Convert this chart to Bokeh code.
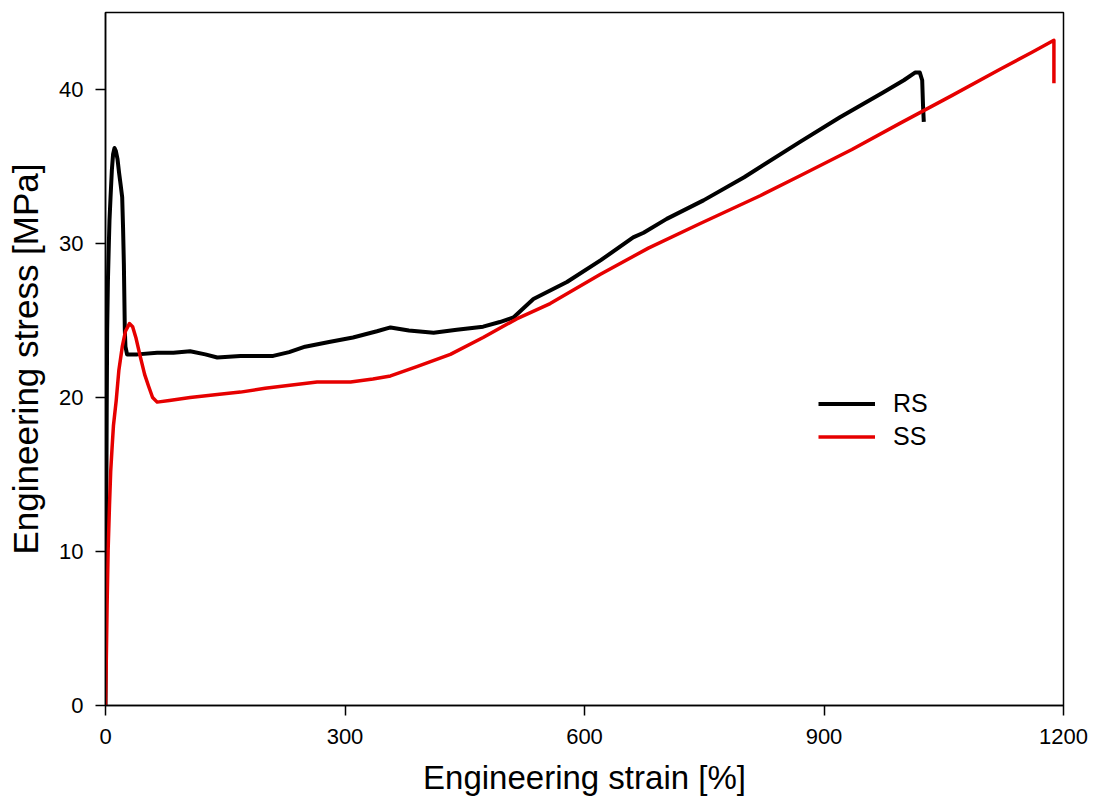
from bokeh.plotting import figure
from bokeh.models import Range1d, FixedTicker
from bokeh.embed import file_html
from bokeh.resources import INLINE

# Engineering stress-strain curves for the two specimens
rs_strain = [0, 0.5, 1, 1.5, 2.1, 3, 4.2, 5, 6.3, 8, 9.5, 11.3, 13, 15, 17, 19, 20.9, 22, 23,
             24.2, 25, 27, 40, 64.7, 85, 106, 125, 140, 169, 181, 210, 230, 250, 280, 310,
             340, 357, 380, 411, 440, 473, 494, 511, 536, 578, 620, 661, 674, 703, 749,
             800, 870, 920, 974, 1000, 1014, 1020, 1023, 1024, 1025]
rs_stress = [0, 6, 13, 19, 24.4, 27.5, 30, 31.5, 33, 34.8, 35.8, 36.2, 36, 35.5, 34.6, 33.8,
             33, 31, 28.7, 24.4, 23.3, 22.8, 22.8, 22.9, 22.9, 23.0, 22.8, 22.6, 22.7, 22.7,
             22.7, 22.95, 23.3, 23.6, 23.9, 24.3, 24.55, 24.35, 24.2, 24.4, 24.6, 24.9, 25.2,
             26.4, 27.5, 28.9, 30.4, 30.7, 31.6, 32.8, 34.3, 36.6, 38.2, 39.8, 40.6, 41.1,
             41.1, 40.6, 39.0, 37.9]

ss_strain = [0, 1, 2, 3.3, 5, 6.5, 8.3, 10, 13.4, 16.7, 21, 25, 30, 34, 38, 43.8, 49, 54.2,
             59, 64.7, 80, 106, 140, 169, 200, 231, 265, 307, 335, 357, 390, 432, 473, 515,
             557, 620, 680, 745, 820, 870, 935, 995, 1060, 1120, 1160, 1188, 1188]
ss_stress = [0, 3, 6.5, 10.1, 13, 15.2, 16.8, 18.2, 19.8, 21.75, 23.3, 24.3, 24.8, 24.6,
             23.9, 22.6, 21.5, 20.7, 20.0, 19.7, 19.8, 20.0, 20.2, 20.35, 20.6, 20.8, 21.0,
             21.0, 21.2, 21.4, 22.0, 22.8, 23.9, 25.1, 26.1, 28.0, 29.7, 31.3, 33.1, 34.4,
             36.1, 37.8, 39.6, 41.3, 42.4, 43.2, 40.4]

x_ticks = [0, 300, 600, 900, 1200]
y_ticks = [0, 10, 20, 30, 40]

FONT = "Liberation Sans"

p = figure(width=1095, height=801, output_backend="svg", toolbar_location=None,
           x_range=Range1d(0, 1200), y_range=Range1d(0, 45),
           min_border_left=105, min_border_right=32, min_border_top=12,
           min_border_bottom=96)

p.line(rs_strain, rs_stress, line_color="black", line_width=4, legend_label="RS",
       line_join="round")
p.line(ss_strain, ss_stress, line_color="#e60000", line_width=3.5, legend_label="SS",
       line_join="round")

p.xgrid.visible = False
p.ygrid.visible = False
p.outline_line_color = "black"
p.outline_line_width = 1.5
p.background_fill_color = "white"
p.border_fill_color = "white"

for ax in (p.xaxis[0], p.yaxis[0]):
    ax.axis_line_width = 1.5
    ax.major_tick_line_width = 1.5
    ax.major_tick_out = 10
    ax.major_tick_in = 0
    ax.minor_tick_out = 0
    ax.minor_tick_in = 0
    ax.major_label_text_font = FONT
    ax.major_label_text_font_size = "22px"
    ax.major_label_text_color = "black"
    ax.axis_label_text_font = FONT
    ax.axis_label_text_font_style = "normal"
    ax.axis_label_text_color = "black"

p.xaxis[0].ticker = FixedTicker(ticks=x_ticks)
p.yaxis[0].ticker = FixedTicker(ticks=y_ticks)
p.xaxis[0].axis_label = "Engineering strain [%]"
p.yaxis[0].axis_label = "Engineering stress [MPa]"
p.xaxis[0].axis_label_text_font_size = "33px"
p.yaxis[0].axis_label_text_font_size = "35px"
p.xaxis[0].major_label_standoff = 13
p.yaxis[0].major_label_standoff = 12
p.xaxis[0].axis_label_standoff = 12
p.yaxis[0].axis_label_standoff = 11

leg = p.legend[0]
leg.location = (713, 252)
leg.border_line_alpha = 0
leg.background_fill_alpha = 0
leg.padding = 0
leg.margin = 0
leg.spacing = 0
leg.glyph_width = 57
leg.glyph_height = 33
leg.label_height = 33
leg.label_standoff = 18
leg.label_text_font = FONT
leg.label_text_font_size = "25px"
leg.label_text_color = "black"

open("out.html", "w").write(file_html(p, INLINE))
